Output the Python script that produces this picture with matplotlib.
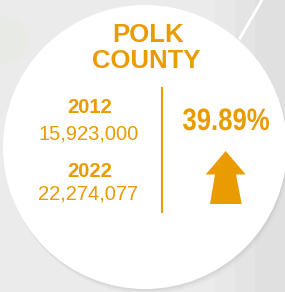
import matplotlib.pyplot as plt
from matplotlib.patches import Circle, Polygon, Rectangle, PathPatch
from matplotlib.textpath import TextPath
from matplotlib.font_manager import FontProperties
from matplotlib.transforms import Affine2D

# data
title_lines = ['POLK', 'COUNTY']
years = ['2012', '2022']
values = [15923000, 22274077]
change = (values[1] - values[0]) / values[0] * 100

ORANGE = '#E99B00'

fig = plt.figure(figsize=(2.85, 2.92), dpi=100)
ax = fig.add_axes([0, 0, 1, 1])
ax.set_xlim(0, 285)
ax.set_ylim(292, 0)
ax.axis('off')

# background
ax.add_patch(Rectangle((0, 0), 285, 292, color='#EBEBEB', zorder=0))
for x0, a in [(215, 0.03), (235, 0.04), (255, 0.05)]:
    ax.add_patch(Rectangle((x0, 0), 285 - x0, 292, color='#999999', alpha=a, lw=0, zorder=0))
ax.add_patch(Circle((5, 40), 22, color='#E8EAE5', zorder=0))
ax.plot([262, 240], [0, 38], color='white', lw=2, zorder=0.5)

# soft shadow + white disc
cx, cy, r = 145, 147, 142
for off, a in [(5, 0.05), (3, 0.07), (1.5, 0.09)]:
    ax.add_patch(Circle((cx + off * 0.5, cy + off), r, color='#888888', alpha=a, lw=0, zorder=1))
ax.add_patch(Circle((cx, cy), r, color='white', lw=0, zorder=2))

# title
ax.text(148, 42, title_lines[0], ha='center', va='baseline', fontsize=18.5,
        fontweight='bold', family='Liberation Sans', color=ORANGE, zorder=3)
ax.text(146, 68, title_lines[1], ha='center', va='baseline', fontsize=18.5,
        fontweight='bold', family='Liberation Sans', color=ORANGE, zorder=3)

# year / value pairs
year_base = [113, 177]
value_base = [139, 200]
for y, v, yb, vb in zip(years, values, year_base, value_base):
    ax.text(89.5, yb, y, ha='center', va='baseline', fontsize=14.5,
            fontweight='bold', family='Liberation Sans', color=ORANGE, zorder=3)
    ax.text(88.5, vb, f'{v:,}', ha='center', va='baseline', fontsize=14.5,
            family='Liberation Sans', color=ORANGE, zorder=3)

# divider
ax.plot([162, 162], [88, 212], color=ORANGE, lw=1.5, zorder=3)

# percentage, condensed bold
fp = FontProperties(family='Liberation Sans', weight='bold')
tp = TextPath((0, 0), f'{change:.2f}%', size=31, prop=fp)
ext = tp.get_extents()
sx = 86 / ext.width
tr = Affine2D().translate(-(ext.x0 + ext.x1) / 2, 0).scale(sx, -1).translate(226, 130)
ax.add_patch(PathPatch(tp, transform=tr + ax.transData, color=ORANGE, lw=0, zorder=3))

# up arrow
arrow = [(225.7, 151), (245.7, 174.5), (236, 174.5), (241.7, 204),
         (210, 204), (215, 174.5), (205.7, 174.5)]
ax.add_patch(Polygon(arrow, closed=True, color=ORANGE, lw=0, zorder=3))

fig.savefig('out.png', dpi=100)
